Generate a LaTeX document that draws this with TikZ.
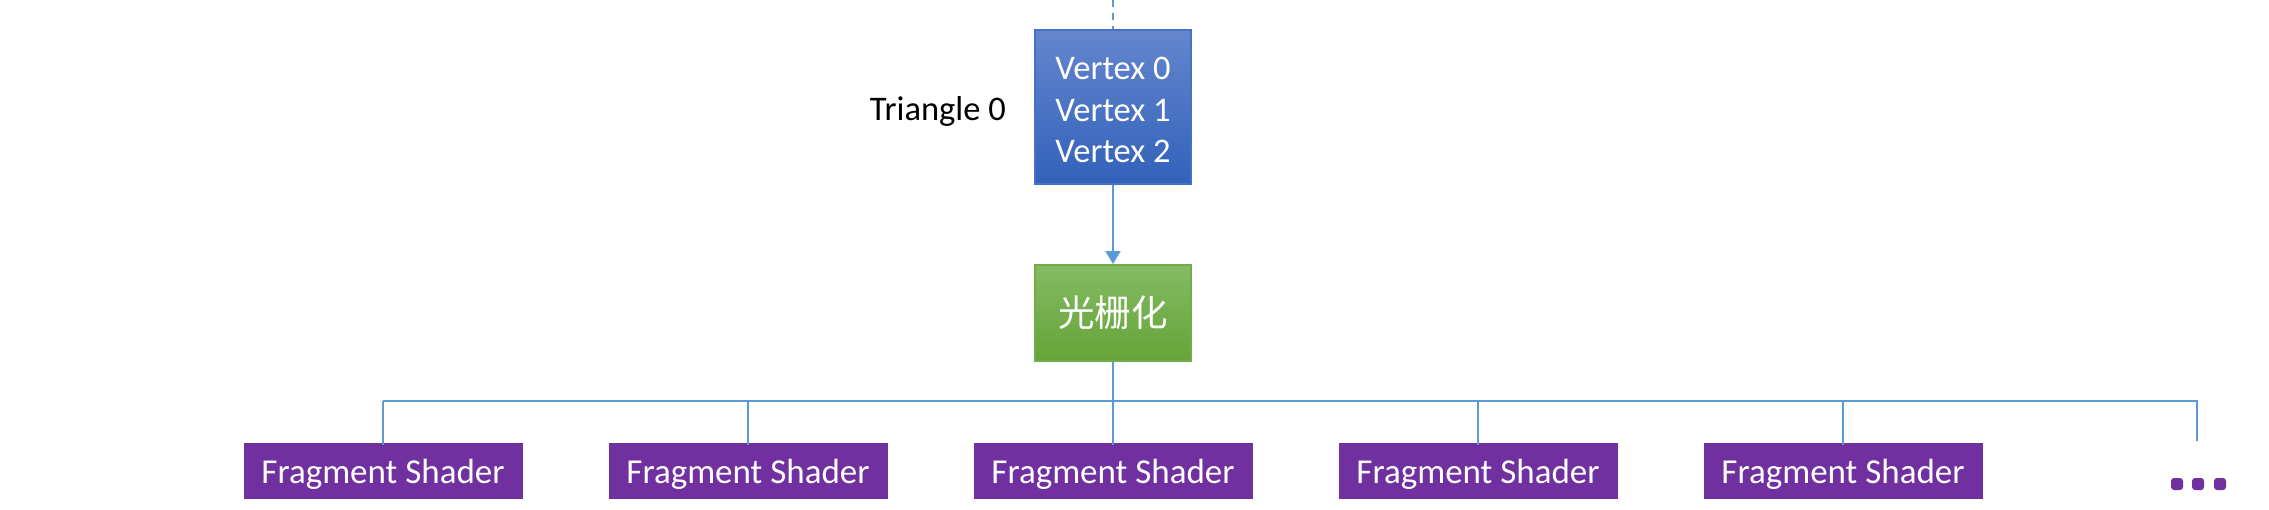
\documentclass[tikz,border=0pt]{standalone}
\usepackage{fontspec}
\setmainfont{Carlito}
\newfontfamily\cjk{Noto Sans CJK SC}
\usetikzlibrary{arrows.meta}
\definecolor{lineblue}{HTML}{5B9BD5}
\definecolor{vborder}{HTML}{4472C4}
\definecolor{vtop}{HTML}{6486CE}
\definecolor{vbot}{HTML}{3262BA}
\definecolor{gborder}{HTML}{70AD47}
\definecolor{gtop}{HTML}{85BA63}
\definecolor{gbot}{HTML}{64A437}
\definecolor{fpurple}{HTML}{7030A0}
\tikzset{
  conn/.style={draw=lineblue, line width=2pt},
  vbox/.style={draw=vborder, line width=2pt, top color=vtop, bottom color=vbot,
    minimum width=156pt, minimum height=154pt, inner sep=0pt, text=white},
  vtext/.style={text=white, align=center, inner sep=0pt,
    font=\fontsize{34.5}{41.5}\selectfont},
  gbox/.style={draw=gborder, line width=2pt, top color=gtop, bottom color=gbot,
    minimum width=156pt, minimum height=96pt, inner sep=0pt, text=white,
    font=\fontsize{36.5}{40}\selectfont\cjk},
  fbox/.style={fill=fpurple, minimum width=279pt, minimum height=56pt, inner sep=0pt},
  ftext/.style={text=white, inner sep=0pt, font=\fontsize{35}{40}\selectfont},
  dotbox/.style={fill=fpurple, minimum width=12pt, minimum height=12pt, inner sep=0pt,
    rounded corners=3pt},
  lbl/.style={text=black, font=\fontsize{34.5}{40}\selectfont, inner sep=0pt}
}
\begin{document}
\begin{tikzpicture}[x=1pt,y=-1pt]
\useasboundingbox (0,0) rectangle (2269,509);
\coordinate (topend) at (1113,0);
\node[vbox] (tri) at (1113,107) {};
\node[vtext] (vt) at (1113,110) {Vertex 0\\Vertex 1\\Vertex 2};
\node[lbl, anchor=east] (tlabel) at (1006,111) {Triangle 0};
\node[gbox] (rast) at (1113,313) {光栅化};
\foreach \i/\x in {1/383,2/748,3/1113,4/1478,5/1843} {
  \node[fbox] (f\i) at (\x,471) {};
  \node[ftext] (ft\i) at (\x,474) {Fragment Shader};
}
\node[dotbox] (d1) at (2177,484) {};
\node[dotbox] (d2) at (2198,484) {};
\node[dotbox] (d3) at (2220,484) {};
\coordinate (dend) at (2197,441);
\coordinate (hj) at (1113,401);
\draw[conn, dash pattern=on 7pt off 6pt] (topend) -- (tri.north);
\draw[conn, -{Triangle[width=15pt,length=13pt]}] (tri.south) -- (rast.north);
\draw[conn] (rast.south) -- (hj);
\draw[conn] (f1.north |- hj) -- (dend |- hj) -- (dend);
\foreach \i in {1,...,5} {
  \draw[conn] (f\i.north |- hj) -- ([yshift=-2pt]f\i.north);
}
\end{tikzpicture}
\end{document}
